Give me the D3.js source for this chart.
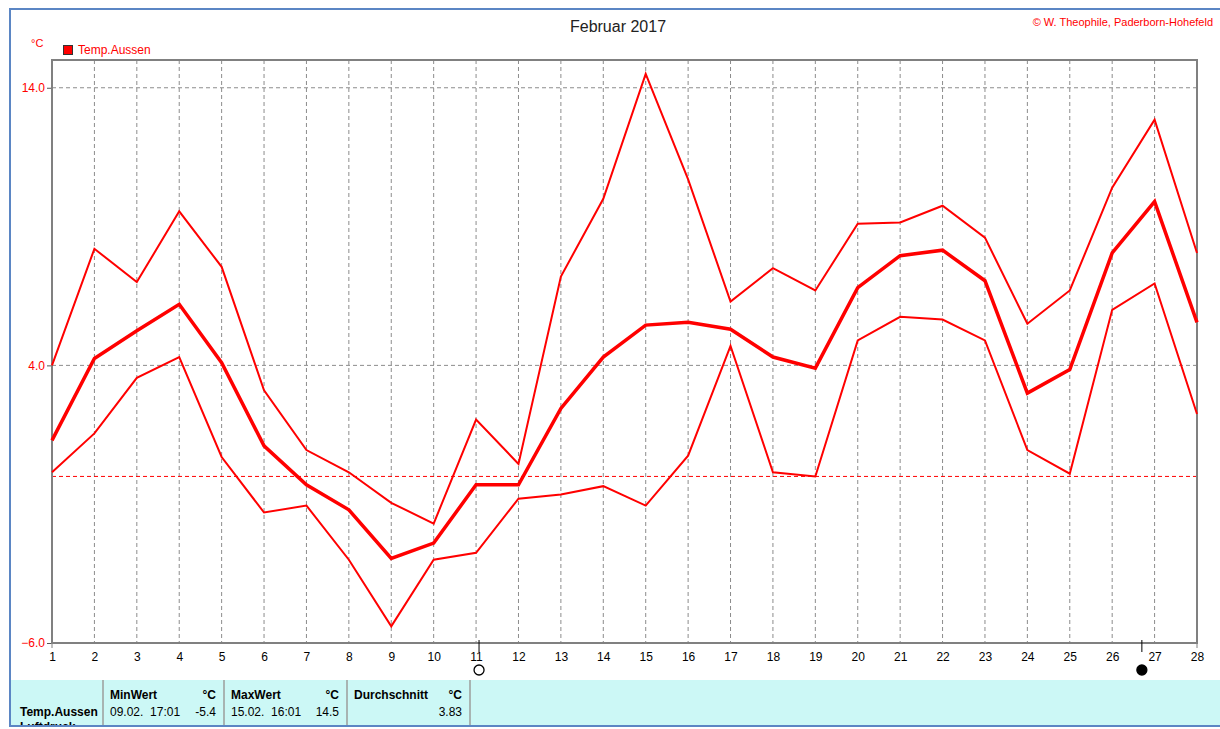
<!DOCTYPE html>
<html>
<head>
<meta charset="utf-8">
<script src="https://cdn.jsdelivr.net/npm/d3@7"></script>
<style>
  body { margin: 0; background: #fff; }
  svg { display: block; font-family: "Liberation Sans", Arial, sans-serif; }
</style>
</head>
<body>
<div id="chart"></div>
<script>
// Tageswerte Februar 2017
var days = d3.range(1, 29);
var tempMax = [4.0, 8.2, 7.0, 9.55, 7.55, 3.1, 0.95, 0.15, -0.95, -1.7, 2.05, 0.45, 7.2, 10.0, 14.5, 10.7, 6.3,
               7.5, 6.7, 9.1, 9.15, 9.75, 8.6, 5.5, 6.7, 10.4, 12.85, 8.05];
var tempMean = [1.3, 4.25, 5.25, 6.2, 4.1, 1.1, -0.3, -1.2, -2.95, -2.4, -0.3, -0.3, 2.45, 4.3, 5.45, 5.55, 5.3,
                4.3, 3.9, 6.8, 7.95, 8.15, 7.05, 3.0, 3.85, 8.05, 9.9, 5.55];
var tempMin = [0.15, 1.55, 3.55, 4.3, 0.7, -1.3, -1.05, -3.0, -5.4, -3.0, -2.75, -0.8, -0.65, -0.35, -1.05, 0.75, 4.7,
               0.15, 0.0, 4.9, 5.75, 5.65, 4.9, 0.95, 0.1, 6.0, 6.95, 2.25];
var yTicks = [-6, 4, 14];
var moonPhases = [{ day: 11.07, full: true }, { day: 26.7, full: false }];

// Statistik-Tabelle
var tableHeads = ["MinWert", "MaxWert", "Durchschnitt"];
var tableTimes = ["09.02.  17:01", "15.02.  16:01", ""];
var tableValues = ["-5.4", "14.5", "3.83"];

var W = 1220, H = 729;
var pLeft = 52, pRight = 1197, pTop = 60, pBottom = 643;
var red = "#ff0000";

var svg = d3.select("#chart").append("svg").attr("width", W).attr("height", H);

var x = d3.scaleLinear().domain([1, 28]).range([pLeft, pRight]);
var y = d3.scaleLinear().domain([-6, 15]).range([pBottom, pTop]);

// Rahmen aussen
svg.append("rect").attr("x", 10).attr("y", 9).attr("width", W).attr("height", 717)
    .attr("fill", "none").attr("stroke", "#5b86c4").attr("stroke-width", 2);

// Gitter
svg.append("g").selectAll("line").data(days.slice(1, -1)).enter().append("line")
    .attr("x1", function(d) { return x(d); }).attr("x2", function(d) { return x(d); })
    .attr("y1", pTop).attr("y2", pBottom)
    .attr("stroke", "#8c8c8c").attr("stroke-dasharray", "4,3");
svg.append("g").selectAll("line").data(yTicks.filter(function(d) { return d > -6; })).enter().append("line")
    .attr("x1", pLeft).attr("x2", pRight)
    .attr("y1", function(d) { return y(d); }).attr("y2", function(d) { return y(d); })
    .attr("stroke", "#8c8c8c").attr("stroke-dasharray", "4,3");
svg.append("line").attr("x1", pLeft).attr("x2", pRight).attr("y1", y(0)).attr("y2", y(0))
    .attr("stroke", red).attr("stroke-dasharray", "4,3");

// Achsen
var yAxis = svg.append("g").attr("transform", "translate(" + pLeft + ",0)")
    .call(d3.axisLeft(y).tickValues(yTicks).tickFormat(d3.format(".1f")).tickSize(5).tickPadding(2));
yAxis.select(".domain").remove();
yAxis.selectAll("line").attr("stroke", "#555");
yAxis.selectAll("text").attr("fill", red).attr("font-size", 12).attr("font-family", "Liberation Sans, Arial");

var xAxis = svg.append("g").attr("transform", "translate(0," + pBottom + ")")
    .call(d3.axisBottom(x).tickValues(days).tickFormat(d3.format("d")).tickSize(0).tickPadding(9));
xAxis.select(".domain").remove();
xAxis.selectAll("text").attr("fill", "#000").attr("font-size", 12).attr("font-family", "Liberation Sans, Arial");

svg.append("rect").attr("x", pLeft).attr("y", pTop).attr("width", pRight - pLeft).attr("height", pBottom - pTop)
    .attr("fill", "none").attr("stroke", "#808080").attr("stroke-width", 2);
svg.append("line").attr("x1", pLeft).attr("x2", pLeft).attr("y1", pBottom).attr("y2", pBottom + 5).attr("stroke", "#808080");
svg.append("line").attr("x1", pRight).attr("x2", pRight).attr("y1", pBottom).attr("y2", pBottom + 5).attr("stroke", "#808080");

// Kurven
var line = d3.line().x(function(d, i) { return x(days[i]); }).y(function(d) { return y(d); });
[[tempMax, 2], [tempMin, 2], [tempMean, 3.5]].forEach(function(s) {
    svg.append("path").datum(s[0]).attr("d", line)
        .attr("fill", "none").attr("stroke", red).attr("stroke-width", s[1])
        .attr("stroke-linejoin", "miter");
});

// Mondphasen
moonPhases.forEach(function(m) {
    svg.append("line").attr("x1", x(m.day)).attr("x2", x(m.day)).attr("y1", pBottom - 3).attr("y2", pBottom + 9)
        .attr("stroke", "#000");
    svg.append("circle").attr("cx", x(m.day)).attr("cy", 670).attr("r", 5)
        .attr("fill", m.full ? "#fff" : "#000").attr("stroke", "#000").attr("stroke-width", 1.3);
});

// Beschriftung
svg.append("text").attr("x", 618).attr("y", 32).attr("text-anchor", "middle")
    .attr("font-size", 16).attr("fill", "#222").text("Februar 2017");
svg.append("text").attr("x", 1213).attr("y", 26).attr("text-anchor", "end")
    .attr("font-size", 11).attr("fill", red).text("\u00a9 W. Theophile, Paderborn-Hohefeld");
svg.append("text").attr("x", 31).attr("y", 47).attr("font-size", 11).attr("fill", red).text("\u00b0C");
svg.append("rect").attr("x", 63.5).attr("y", 45.5).attr("width", 9).attr("height", 9)
    .attr("fill", red).attr("stroke", "#333");
svg.append("text").attr("x", 78).attr("y", 54).attr("font-size", 12).attr("fill", red).text("Temp.Aussen");

// Tabelle
var table = svg.append("g");
table.append("rect").attr("x", 11).attr("y", 680).attr("width", W - 11).attr("height", 45).attr("fill", "#ccf8f6");
var colX = [103, 224, 347, 470];
colX.forEach(function(cx) {
    table.append("line").attr("x1", cx).attr("x2", cx).attr("y1", 680).attr("y2", 725)
        .attr("stroke", "#a8b4b2").attr("stroke-width", 2);
});
table.append("text").attr("x", 20).attr("y", 716).attr("font-size", 12).attr("font-weight", "bold").text("Temp.Aussen");
svg.append("clipPath").attr("id", "tclip").append("rect").attr("x", 0).attr("y", 680).attr("width", W).attr("height", 45);
table.append("text").attr("clip-path", "url(#tclip)").attr("x", 20).attr("y", 731)
    .attr("font-size", 12).attr("font-weight", "bold").text("Luftdruck");
tableHeads.forEach(function(h, i) {
    var x0 = colX[i] + 7, x1 = colX[i + 1] - 8;
    table.append("text").attr("x", x0).attr("y", 699).attr("font-size", 12).attr("font-weight", "bold").text(h);
    table.append("text").attr("x", x1).attr("y", 699).attr("font-size", 12).attr("font-weight", "bold")
        .attr("text-anchor", "end").text("\u00b0C");
    table.append("text").attr("x", x0).attr("y", 716).attr("font-size", 12).attr("xml:space", "preserve").text(tableTimes[i]);
    table.append("text").attr("x", x1).attr("y", 716).attr("font-size", 12).attr("text-anchor", "end").text(tableValues[i]);
});
</script>
</body>
</html>
